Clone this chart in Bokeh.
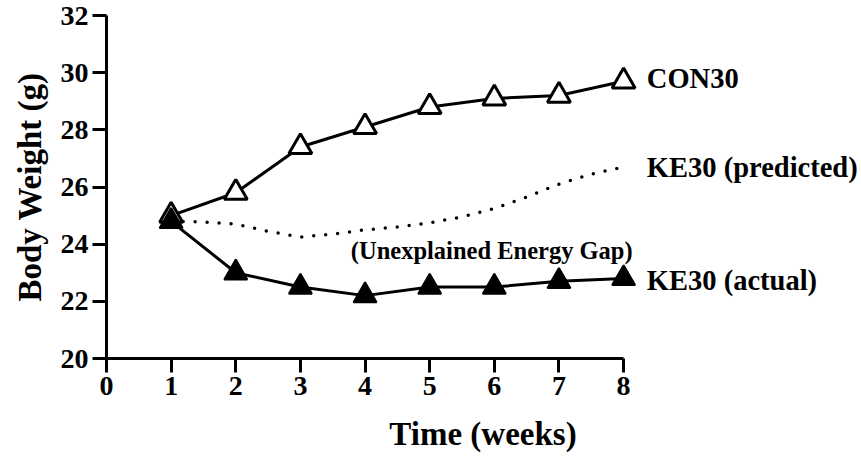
from bokeh.plotting import figure
from bokeh.models import Range1d, FixedTicker
from bokeh.core.properties import value
from bokeh.embed import file_html
from bokeh.resources import INLINE

weeks = [1, 2, 3, 4, 5, 6, 7, 8]
con30 = [25.0, 25.8, 27.4, 28.1, 28.8, 29.1, 29.2, 29.7]
ke30_actual = [24.8, 23.0, 22.5, 22.2, 22.5, 22.5, 22.7, 22.8]
pred_weeks = [1, 1.5, 2, 2.5, 3, 3.5, 4, 4.5, 5, 5.5, 6, 6.5, 7, 7.5, 8]
ke30_pred = [24.8, 24.78, 24.7, 24.45, 24.25, 24.35, 24.5, 24.6, 24.75, 24.95, 25.25, 25.65, 26.1, 26.45, 26.7]
x_ticks = [0, 1, 2, 3, 4, 5, 6, 7, 8]
y_ticks = [20, 22, 24, 26, 28, 30, 32]
labels = ["CON30", "KE30 (predicted)", "KE30 (actual)"]
label_x = [8.36, 8.36, 8.36]
label_y = [29.8, 26.69, 22.73]
gap_label = ["(Unexplained Energy Gap)"]
gap_x = [3.78]
gap_y = [23.78]

FONT = "Liberation Serif"

p = figure(width=859, height=456, output_backend="svg", toolbar_location=None,
           x_range=Range1d(0, 11.65), y_range=Range1d(20, 32),
           min_border_left=106, min_border_right=0, min_border_top=15, min_border_bottom=98)
p.outline_line_color = None
p.grid.visible = False
p.background_fill_color = "white"

for ax in (p.xaxis[0], p.yaxis[0]):
    ax.axis_line_width = 3
    ax.major_tick_line_width = 3
    ax.major_tick_out = 14
    ax.major_tick_in = 0
    ax.minor_tick_line_color = None
    ax.major_label_text_font = FONT
    ax.major_label_text_font_style = "bold"
    ax.major_label_text_font_size = "28px"
    ax.major_label_text_color = "black"
    ax.axis_label_text_font = FONT
    ax.axis_label_text_font_style = "bold"
    ax.axis_label_text_font_size = "33px"
    ax.axis_label_text_color = "black"
    ax.major_label_standoff = 4

p.xaxis.ticker = FixedTicker(ticks=x_ticks)
p.yaxis.ticker = FixedTicker(ticks=y_ticks)
p.xaxis.bounds = (0, 8)
p.xaxis.axis_label = "Time (weeks)"
p.yaxis.axis_label = "Body Weight (g)"
p.xaxis.axis_label_standoff = 18
p.yaxis.axis_label_standoff = 10

p.line(pred_weeks, ke30_pred, line_width=3.5, line_color="black", line_dash="0 12", line_cap="round")
p.line(weeks, con30, line_width=3, line_color="black")
p.scatter(weeks, con30, marker="triangle", size=23, fill_color="white", line_color="black", line_width=3)
p.line(weeks, ke30_actual, line_width=3, line_color="black")
p.scatter(weeks, ke30_actual, marker="triangle", size=23, fill_color="black", line_color="black", line_width=2)

p.text(label_x, label_y, text=labels, text_font=value(FONT), text_font_style="bold",
       text_font_size="28.5px", text_align="left", text_baseline="middle", text_color="black")
p.text(gap_x, gap_y, text=gap_label, text_font=value(FONT), text_font_style="bold",
       text_font_size="24.5px", text_align="left", text_baseline="middle", text_color="black")

open("out.html", "w").write(file_html(p, INLINE))
